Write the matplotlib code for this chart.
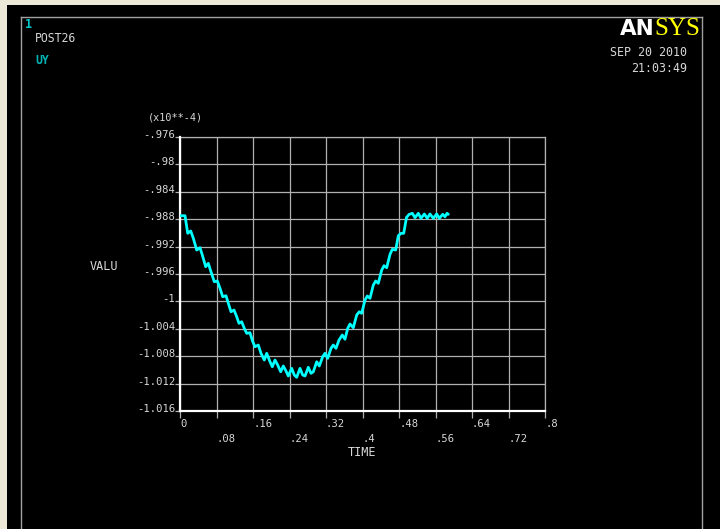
import matplotlib
matplotlib.use("Agg")
import matplotlib.pyplot as plt
from matplotlib.patches import Rectangle
from matplotlib.lines import Line2D

# ---- data (TIME, UY in units of 1e-4) ----
time = [0.0, 0.0110, 0.0169, 0.0235, 0.0292, 0.0366, 0.0438, 0.0489, 0.0563, 0.0620,
        0.0679, 0.0752, 0.0818, 0.0877, 0.0936, 0.1008, 0.1059, 0.1118, 0.1184, 0.1243,
        0.1293, 0.1352, 0.1409, 0.1462, 0.1534, 0.1589, 0.1644, 0.1716, 0.1775, 0.1848,
        0.1900, 0.1973, 0.2023, 0.2082, 0.2141, 0.2207, 0.2264, 0.2323, 0.2374, 0.2448,
        0.2505, 0.2558, 0.2630, 0.2689, 0.2740, 0.2812, 0.2871, 0.2922, 0.2996, 0.3053,
        0.3128, 0.3178, 0.3237, 0.3310, 0.3360, 0.3419, 0.3485, 0.3557, 0.3616, 0.3676,
        0.3726, 0.3798, 0.3873, 0.3930, 0.3982, 0.4055, 0.4105, 0.4164, 0.4237, 0.4289,
        0.4346, 0.4421, 0.4471, 0.4530, 0.4603, 0.4653, 0.4728, 0.4785, 0.4844, 0.4903,
        0.4964, 0.5019, 0.5092, 0.5151, 0.5223, 0.5282, 0.5355, 0.5420, 0.5479, 0.5552,
        0.5626, 0.5683, 0.5758, 0.5808, 0.5852, 0.5881]
uy = [-0.98749, -0.98749, -0.99006, -0.98972, -0.99079, -0.99250, -0.99216, -0.99323, -0.99494, -0.99444,
      -0.99567, -0.99713, -0.99702, -0.99809, -0.99932, -0.99917, -1.00028, -1.00151, -1.00126, -1.00224,
      -1.00320, -1.00297, -1.00393, -1.00466, -1.00457, -1.00578, -1.00662, -1.00637, -1.00758, -1.00856,
      -1.00758, -1.00881, -1.00954, -1.00856, -1.00929, -1.01027, -1.00943, -1.01016, -1.01089, -1.00977,
      -1.01075, -1.01108, -1.00977, -1.01075, -1.01089, -1.00962, -1.01050, -1.01027, -1.00881, -1.00943,
      -1.00807, -1.00758, -1.00831, -1.00685, -1.00637, -1.00685, -1.00564, -1.00491, -1.00553, -1.00393,
      -1.00330, -1.00384, -1.00199, -1.00151, -1.00174, -0.99980, -0.99921, -0.99955, -0.99761, -0.99702,
      -0.99736, -0.99542, -0.99479, -0.99508, -0.99313, -0.99240, -0.99250, -0.99041, -0.99006, -0.99006,
      -0.98775, -0.98731, -0.98714, -0.98778, -0.98714, -0.98787, -0.98724, -0.98787, -0.98724, -0.98787,
      -0.98724, -0.98787, -0.98729, -0.98764, -0.98714, -0.98729]

x_ticks = [0, 0.08, 0.16, 0.24, 0.32, 0.4, 0.48, 0.56, 0.64, 0.72, 0.8]
x_tick_labels = ["0", ".08", ".16", ".24", ".32", ".4", ".48", ".56", ".64", ".72", ".8"]
y_ticks = [-0.976, -0.98, -0.984, -0.988, -0.992, -0.996, -1.0, -1.004, -1.008, -1.012, -1.016]
y_tick_labels = ["-.976", "-.98", "-.984", "-.988", "-.992", "-.996", "-1", "-1.004", "-1.008",
                 "-1.012", "-1.016"]

W, H = 720, 529
FONT = "DejaVu Sans Mono"
LBL = "#D8D8D8"
GRID = "#B0B0B0"

fig = plt.figure(figsize=(W / 100, H / 100), dpi=100, facecolor="black")

def fx(px):
    return px / W

def fy(py):
    return 1 - py / H

# window border (light) and frame
fig.patches.append(Rectangle((0, fy(5)), 1, 5 / H, transform=fig.transFigure,
                             facecolor="#ECE9D8", edgecolor="none", zorder=0))
fig.patches.append(Rectangle((0, 0), 7 / W, 1, transform=fig.transFigure,
                             facecolor="#ECE9D8", edgecolor="none", zorder=0))
for xs, ys in [([21, 702], [17, 17]), ([21, 21], [17, 530]), ([702, 702], [17, 530])]:
    fig.lines.append(Line2D([fx(v) for v in xs], [fy(v) for v in ys], transform=fig.transFigure,
                            color="#A0A0A0", lw=1.0))

ax = fig.add_axes([fx(180), fy(411), 365 / W, 274 / H])
ax.set_facecolor("black")
ax.set_xlim(0, 0.8)
ax.set_ylim(-1.016, -0.976)
ax.set_xticks(x_ticks)
ax.set_yticks(y_ticks)
ax.set_xticklabels([])
ax.set_yticklabels([])
ax.grid(True, color=GRID, lw=0.9)
ax.tick_params(axis="x", direction="out", length=5, width=0.9, color=GRID)
ax.tick_params(axis="y", direction="out", length=3.6, width=0.9, color=GRID)
for s in ["top", "right"]:
    ax.spines[s].set_color(GRID)
    ax.spines[s].set_linewidth(0.9)
for s in ["left", "bottom"]:
    ax.spines[s].set_color("white")
    ax.spines[s].set_linewidth(1.6)
    ax.spines[s].set_zorder(3)

ax.plot(time, uy, color="#00FFFF", lw=2.0, zorder=4, solid_joinstyle="round",
        solid_capstyle="round")

# tick labels
for i, (xv, lab) in enumerate(zip(x_ticks, x_tick_labels)):
    off = -9.4 if i % 2 == 0 else -20.2
    ax.annotate(lab, xy=(xv, 0), xycoords=("data", "axes fraction"), xytext=(0, off),
                textcoords="offset points", ha="left", va="center", color=LBL,
                fontsize=7.6, family=FONT, annotation_clip=False)
for yv, lab in zip(y_ticks, y_tick_labels):
    ax.annotate(lab, xy=(0, yv), xycoords=("axes fraction", "data"), xytext=(-3.6, 1.4),
                textcoords="offset points", ha="right", va="center", color=LBL,
                fontsize=7.6, family=FONT, annotation_clip=False)

# axis titles and annotations
fig.text(fx(175), fy(117), "(x10**-4)", ha="center", va="center", color=LBL, fontsize=7.3, family=FONT)
fig.text(fx(90), fy(267), "VALU", ha="left", va="center", color=LBL, fontsize=8.5, family=FONT)
fig.text(fx(361.5), fy(453), "TIME", ha="center", va="center", color=LBL, fontsize=8.5, family=FONT)

fig.text(fx(25), fy(24), "1", ha="left", va="center", color="#00C8C8", fontsize=8.5,
         family=FONT, weight="bold")
fig.text(fx(35), fy(39), "POST26", ha="left", va="center", color=LBL, fontsize=8.3, family=FONT)
fig.text(fx(35), fy(61), "UY", ha="left", va="center", color="#00B4B4", fontsize=8.3,
         family=FONT, weight="bold")

fig.text(fx(687), fy(53), "SEP 20 2010", ha="right", va="center", color=LBL, fontsize=8.4, family=FONT)
fig.text(fx(687), fy(68), "21:03:49", ha="right", va="center", color=LBL, fontsize=8.4, family=FONT)

# ANSYS logo
fig.text(fx(655), fy(29), "AN", ha="right", va="center", color="white", fontsize=15.5,
         family="DejaVu Sans", weight="heavy")
fig.text(fx(654), fy(29), "SYS", ha="left", va="center", color="#FFFF00", fontsize=18,
         family="Liberation Serif")

fig.savefig("out.png", dpi=100, facecolor="black")
